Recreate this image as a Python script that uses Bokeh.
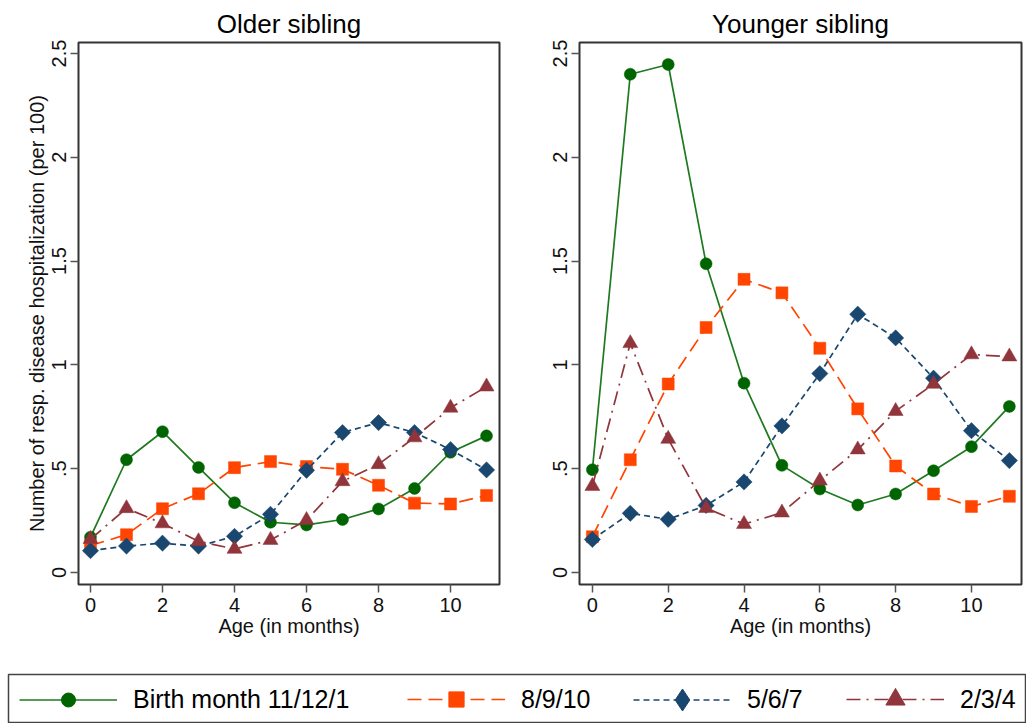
import math
from bokeh.plotting import figure
from bokeh.layouts import column, row
from bokeh.models import FixedTicker, Legend, LegendItem, ColumnDataSource
from bokeh.embed import file_html
from bokeh.resources import INLINE

# ---------------- data ----------------
ages = list(range(12))
series_labels = ["Birth month 11/12/1", "8/9/10", "5/6/7", "2/3/4"]

older_111 = [0.17, 0.543, 0.678, 0.506, 0.336, 0.242, 0.229, 0.255, 0.306, 0.405, 0.579, 0.658]
older_8910 = [0.13, 0.182, 0.307, 0.379, 0.505, 0.534, 0.51, 0.497, 0.42, 0.334, 0.33, 0.371]
older_567 = [0.105, 0.127, 0.141, 0.127, 0.174, 0.28, 0.492, 0.674, 0.722, 0.674, 0.592, 0.494]
older_234 = [0.16, 0.309, 0.236, 0.15, 0.113, 0.156, 0.252, 0.439, 0.521, 0.65, 0.793, 0.895]

younger_111 = [0.495, 2.40, 2.447, 1.487, 0.912, 0.516, 0.402, 0.325, 0.378, 0.49, 0.606, 0.80]
younger_8910 = [0.172, 0.543, 0.908, 1.18, 1.412, 1.347, 1.08, 0.788, 0.513, 0.378, 0.318, 0.367]
younger_567 = [0.159, 0.285, 0.256, 0.323, 0.436, 0.706, 0.958, 1.244, 1.13, 0.936, 0.683, 0.539]
younger_234 = [0.416, 1.104, 0.643, 0.31, 0.233, 0.288, 0.442, 0.592, 0.777, 0.908, 1.05, 1.04]

x_ticks = [0, 2, 4, 6, 8, 10]
y_ticks = [0, 0.5, 1, 1.5, 2, 2.5]
y_tick_labels = ["0", ".5", "1", "1.5", "2", "2.5"]

# ---------------- styles ----------------
FONT = "Liberation Sans"
styles = [
    dict(line="#1f7a1f", fill="#006400", marker="circle", size=12, angle=0, dash="solid",
         leg_marker="circle", leg_h=35),
    dict(line="#ff4500", fill="#ff4500", marker="square", size=12, angle=0, dash="14 7",
         leg_marker="square", leg_h=38),
    dict(line="#1a476f", fill="#1a476f", marker="square", size=11.5, angle=math.pi / 4, dash="6 4",
         leg_marker="diamond", leg_h=55),
    dict(line="#90353b", fill="#90353b", marker="triangle", size=15, angle=0, dash="14 6 2 6",
         leg_marker="triangle", leg_h=48),
]


def make_panel(title, series, width, left_border, right_border, x_range, show_ylabel):
    p = figure(width=width, height=644, output_backend="svg", toolbar_location=None,
               x_range=x_range, y_range=(-0.058, 2.553),
               min_border_left=left_border, min_border_right=right_border,
               min_border_top=42, min_border_bottom=60,
               background_fill_color="white", border_fill_color="white")
    p.title.text = title
    p.title.align = "center"
    p.title.text_font = FONT
    p.title.text_font_size = "26px"
    p.title.text_font_style = "normal"
    p.title.text_color = "black"
    p.title.standoff = 8

    p.outline_line_color = "#333333"
    p.outline_line_width = 2
    p.xgrid.visible = False
    p.ygrid.visible = False

    for ax in (p.xaxis[0], p.yaxis[0]):
        ax.axis_line_color = None
        ax.major_tick_out = 8
        ax.major_tick_in = 0
        ax.major_tick_line_color = "#555555"
        ax.major_tick_line_width = 1.5
        ax.minor_tick_line_color = None
        ax.major_label_text_font = FONT
        ax.major_label_text_font_size = "20px"
        ax.major_label_text_color = "#111111"
        ax.axis_label_text_font = FONT
        ax.axis_label_text_font_size = "20px"
        ax.axis_label_text_font_style = "normal"
        ax.axis_label_text_color = "#111111"

    p.xaxis.ticker = FixedTicker(ticks=x_ticks)
    p.xaxis.axis_label = "Age (in months)"
    p.xaxis.major_label_standoff = 5
    p.xaxis.axis_label_standoff = 0

    p.yaxis.ticker = FixedTicker(ticks=y_ticks)
    p.yaxis.major_label_overrides = {t: s for t, s in zip(y_ticks, y_tick_labels)}
    p.yaxis.major_label_orientation = "vertical"
    p.yaxis.major_label_standoff = 4
    if show_ylabel:
        p.yaxis.axis_label = "Number of resp. disease hospitalization (per 100)"
        p.yaxis.axis_label_standoff = 2

    for vals, st in zip(series, styles):
        src = ColumnDataSource(dict(x=ages, y=vals))
        p.line("x", "y", source=src, line_color=st["line"], line_width=1.7, line_dash=st["dash"])
        p.scatter("x", "y", source=src, marker=st["marker"], size=st["size"], angle=st["angle"],
                  fill_color=st["fill"], line_color=st["fill"], line_width=0.5)
    return p


p1 = make_panel("Older sibling", [older_111, older_8910, older_567, older_234],
                510, 78, 11, (-0.333, 11.36), True)
p2 = make_panel("Younger sibling", [younger_111, younger_8910, younger_567, younger_234],
                516, 69, 5, (-0.34, 11.32), False)

# ---------------- legend strip ----------------
pl = figure(width=1026, height=79, output_backend="svg", toolbar_location=None,
            x_axis_type=None, y_axis_type=None, x_range=(0, 1), y_range=(0, 1),
            min_border_left=8, min_border_right=0, min_border_top=30, min_border_bottom=0,
            background_fill_color="white", border_fill_color="white")
pl.outline_line_color = "#444444"
pl.outline_line_width = 1.5
pl.xgrid.visible = False
pl.ygrid.visible = False

leg_x = [11, 399, 625, 838]
for label, st, lx in zip(series_labels, styles, leg_x):
    # placeholder source (single NaN point) so the legend swatch is drawn; nothing is plotted
    empty = ColumnDataSource(dict(x=[float("nan")], y=[float("nan")]))
    lr = pl.line("x", "y", source=empty, line_color=st["line"], line_width=1.7, line_dash=st["dash"])
    sr = pl.scatter("x", "y", source=empty, marker=st["leg_marker"], size=st["size"],
                    fill_color=st["fill"], line_color=st["fill"])
    h = st["leg_h"]
    leg = Legend(items=[LegendItem(label=label, renderers=[lr, sr])],
                 location=(lx, 24 - h / 2), orientation="horizontal",
                 glyph_width=98, glyph_height=h, label_standoff=16,
                 label_text_font=FONT, label_text_font_size="25px", label_text_color="black",
                 label_height=h, padding=0, margin=0, spacing=0,
                 border_line_color=None, background_fill_alpha=0)
    pl.add_layout(leg, "center")

layout = column(row(p1, p2), pl)
open("out.html", "w").write(file_html(layout, INLINE))
